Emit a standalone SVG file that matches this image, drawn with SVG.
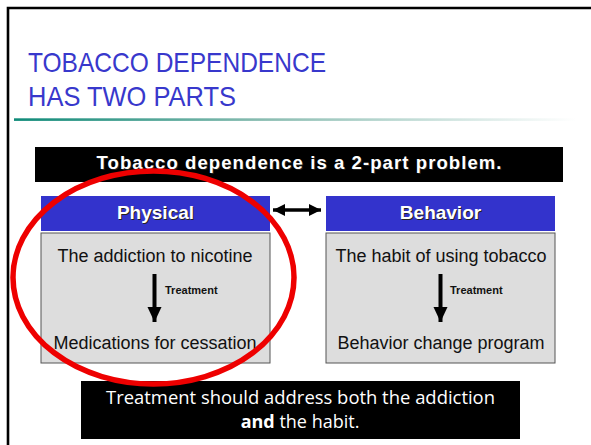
<svg xmlns="http://www.w3.org/2000/svg" width="591" height="445" viewBox="0 0 591 445">
  <style>
    .title { font-family: "Liberation Sans", Arial, sans-serif; font-size: 28px; fill: #3838CC; }
    .hdr { font-family: "Liberation Sans", Arial, sans-serif; font-weight: bold; fill: #FFFFFF; text-anchor: middle; }
    .shadow { fill: #222222; }
    .hdrbox { fill: #3333CC; }
    .body { fill: #DDDDDD; stroke: #555555; stroke-width: 1; }
    .txt { font-family: "Liberation Sans", Arial, sans-serif; font-size: 18px; fill: #111111; text-anchor: middle; }
    .lbl { font-family: "Liberation Sans", Arial, sans-serif; font-size: 11px; font-weight: bold; fill: #111111; }
    .note { font-family: "Open Sans", "Liberation Sans", sans-serif; font-size: 18px; fill: #FFFFFF; text-anchor: middle; }
    .conn { stroke: #000000; fill: none; }
  </style>
  <defs>
    <linearGradient id="rule" x1="0" y1="0" x2="1" y2="0">
      <stop offset="0" stop-color="#0E8A78"/>
      <stop offset="0.45" stop-color="#8BBDB2"/>
      <stop offset="1" stop-color="#FFFFFF"/>
    </linearGradient>
    <marker id="head" markerUnits="userSpaceOnUse" markerWidth="16" markerHeight="16" refX="15" refY="7" orient="auto">
      <path d="M0,0 L15,7 L0,14 Z" fill="#000000"/>
    </marker>
    <marker id="head-sm" markerUnits="userSpaceOnUse" markerWidth="13" markerHeight="13" refX="12" refY="6" orient="auto-start-reverse">
      <path d="M0,0 L12,6 L0,12 Z" fill="#000000"/>
    </marker>
  </defs>

  <rect width="591" height="445" fill="#FFFFFF"/>
  <!-- slide frame -->
  <path d="M8,450 L8,8 L600,8" fill="none" stroke="#000000" stroke-width="2.6"/>

  <!-- title -->
  <g id="title">
    <text class="title" x="28" y="72" textLength="298" lengthAdjust="spacingAndGlyphs">TOBACCO DEPENDENCE</text>
    <text class="title" x="28" y="106" textLength="208" lengthAdjust="spacingAndGlyphs">HAS TWO PARTS</text>
    <rect x="14" y="118.3" width="562" height="2.6" fill="url(#rule)"/>
  </g>

  <!-- headline banner -->
  <g id="banner">
    <rect x="35" y="147" width="528" height="35" fill="#000000"/>
    <text class="hdr shadow" x="300" y="169.5" font-size="18.5" textLength="405" lengthAdjust="spacing">Tobacco dependence is a 2-part problem.</text>
    <text class="hdr" x="299" y="168.5" font-size="18.5" textLength="405" lengthAdjust="spacing">Tobacco dependence is a 2-part problem.</text>
  </g>

  <!-- physical column -->
  <g id="physical">
    <rect class="hdrbox" x="41" y="196" width="229" height="35"/>
    <text class="hdr shadow" x="156.5" y="219.5" font-size="19">Physical</text>
    <text class="hdr" x="155.5" y="218.5" font-size="19">Physical</text>
    <rect class="body" x="41" y="233" width="229" height="130"/>
    <text class="txt" x="155" y="262">The addiction to nicotine</text>
    <text class="txt" x="155" y="349">Medications for cessation</text>
  </g>

  <!-- behavior column -->
  <g id="behavior">
    <rect class="hdrbox" x="326" y="196" width="229" height="35"/>
    <text class="hdr shadow" x="441.5" y="219.5" font-size="19">Behavior</text>
    <text class="hdr" x="440.5" y="218.5" font-size="19">Behavior</text>
    <rect class="body" x="326" y="233" width="229" height="130"/>
    <text class="txt" x="441" y="262">The habit of using tobacco</text>
    <text class="txt" x="441" y="349">Behavior change program</text>
  </g>

  <!-- connectors -->
  <g id="connectors">
    <line class="conn" x1="273" y1="210" x2="321" y2="210" stroke-width="3.5" marker-start="url(#head-sm)" marker-end="url(#head-sm)"/>
    <line class="conn" x1="154.5" y1="274" x2="154.5" y2="322" stroke-width="4" marker-end="url(#head)"/>
    <text class="lbl" x="165" y="293.5">Treatment</text>
    <line class="conn" x1="440.5" y1="274" x2="440.5" y2="322" stroke-width="4" marker-end="url(#head)"/>
    <text class="lbl" x="450" y="293.5">Treatment</text>
  </g>

  <!-- summary box -->
  <g id="summary">
    <rect x="81" y="381" width="439" height="58" fill="#000000"/>
    <text class="note" x="300.5" y="404" textLength="389" lengthAdjust="spacingAndGlyphs">Treatment should address both the addiction</text>
    <text class="note" x="300" y="427.5"><tspan font-weight="bold">and</tspan> the habit.</text>
  </g>

  <!-- highlight ring -->
  <g id="highlight">
    <ellipse cx="153.5" cy="277.5" rx="140.5" ry="106.5" fill="none" stroke="#EE0000" stroke-width="5.5"/>
  </g>
</svg>
